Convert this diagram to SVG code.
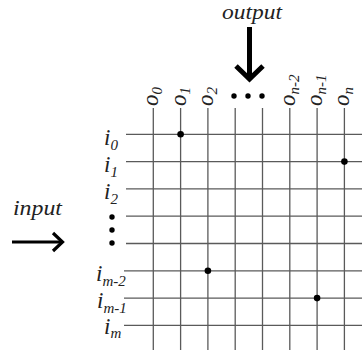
<svg xmlns="http://www.w3.org/2000/svg" width="362" height="350" viewBox="0 0 362 350">
<style>
.lbl{font-family:"Liberation Serif","Times New Roman",serif;font-style:italic;fill:#222}
.big{font-size:23px}
.mid{font-size:20px}
.sub{font-size:15px}
.grid line{stroke:#5a5a5a;stroke-width:1.3}
.dot{fill:#000}
.arrow{fill:none;stroke:#000;stroke-linecap:butt}
</style>
<rect width="362" height="350" fill="#fff"/>
<g id="connectors" class="grid">
<line x1="153.3" y1="108" x2="153.3" y2="350"/>
<line x1="180.6" y1="108" x2="180.6" y2="350"/>
<line x1="207.9" y1="108" x2="207.9" y2="350"/>
<line x1="235.2" y1="108" x2="235.2" y2="350"/>
<line x1="262.5" y1="108" x2="262.5" y2="350"/>
<line x1="289.8" y1="108" x2="289.8" y2="350"/>
<line x1="317.1" y1="108" x2="317.1" y2="350"/>
<line x1="344.4" y1="108" x2="344.4" y2="350"/>
<line x1="126" y1="134.3" x2="362" y2="134.3"/>
<line x1="126" y1="161.6" x2="362" y2="161.6"/>
<line x1="126" y1="188.9" x2="362" y2="188.9"/>
<line x1="126" y1="216.2" x2="362" y2="216.2"/>
<line x1="126" y1="243.5" x2="362" y2="243.5"/>
<line x1="124" y1="270.8" x2="362" y2="270.8"/>
<line x1="124" y1="298.1" x2="362" y2="298.1"/>
<line x1="124" y1="325.4" x2="362" y2="325.4"/>
</g>
<g id="crosspoints">
<circle class="dot" cx="180.6" cy="134.3" r="3.3"/>
<circle class="dot" cx="344.4" cy="161.6" r="3.3"/>
<circle class="dot" cx="207.9" cy="270.8" r="3.3"/>
<circle class="dot" cx="317.1" cy="298.1" r="3.3"/>
</g>
<g id="output-labels" class="lbl">
<text class="big" transform="translate(158,106) rotate(-90)">o<tspan class="sub" dy="4">0</tspan></text>
<text class="big" transform="translate(185.5,106) rotate(-90)">o<tspan class="sub" dy="4">1</tspan></text>
<text class="big" transform="translate(212.8,106) rotate(-90)">o<tspan class="sub" dy="4">2</tspan></text>
<text class="big" transform="translate(294.7,106) rotate(-90)">o<tspan class="sub" dy="4">n-2</tspan></text>
<text class="big" transform="translate(322,106) rotate(-90)">o<tspan class="sub" dy="4">n-1</tspan></text>
<text class="big" transform="translate(349.3,106) rotate(-90)">o<tspan class="sub" dy="4">n</tspan></text>
</g>
<g id="output-ellipsis">
<circle class="dot" cx="234" cy="96" r="2.7"/>
<circle class="dot" cx="248" cy="96" r="2.7"/>
<circle class="dot" cx="262" cy="96" r="2.7"/>
</g>
<g id="input-labels" class="lbl">
<text class="big" x="104" y="145">i<tspan class="sub" dy="5">0</tspan></text>
<text class="big" x="104" y="172">i<tspan class="sub" dy="5">1</tspan></text>
<text class="big" x="104" y="199">i<tspan class="sub" dy="5">2</tspan></text>
<text class="big" x="96" y="280.5">i<tspan class="sub" dy="5">m-2</tspan></text>
<text class="big" x="97" y="307.5">i<tspan class="sub" dy="5">m-1</tspan></text>
<text class="big" x="104" y="334">i<tspan class="sub" dy="4">m</tspan></text>
</g>
<g id="input-ellipsis">
<circle class="dot" cx="112" cy="217" r="2.7"/>
<circle class="dot" cx="112" cy="230" r="2.7"/>
<circle class="dot" cx="112" cy="243" r="2.7"/>
</g>
<g id="output" class="lbl">
<text class="mid" x="222" y="19" textLength="60" lengthAdjust="spacingAndGlyphs">output</text>
<path class="arrow" d="M249.5,27 V78" stroke-width="5"/>
<path class="arrow" d="M236,66 L249.5,79 L263,66" stroke-width="5"/>
</g>
<g id="input" class="lbl">
<text class="mid" x="13" y="215" textLength="49" lengthAdjust="spacingAndGlyphs">input</text>
<path class="arrow" d="M12,242 H62" stroke-width="3"/>
<path class="arrow" d="M53,233 L62.5,242 L53,251" stroke-width="3.2"/>
</g>
</svg>
